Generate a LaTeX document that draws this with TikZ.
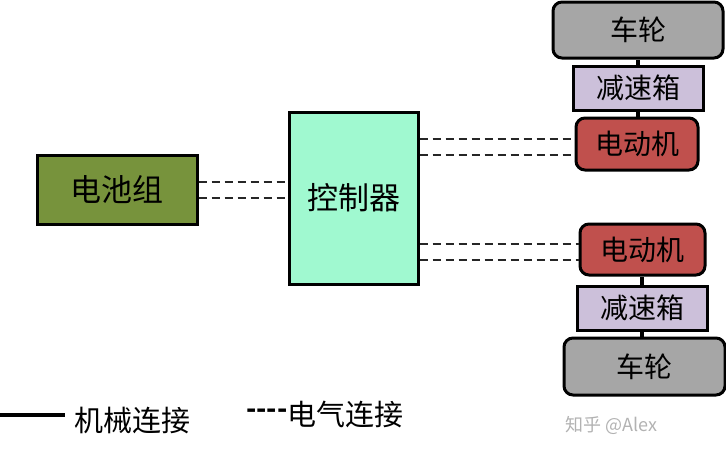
\documentclass[tikz,border=0pt]{standalone}
\usepackage{fontspec}
\setmainfont{Noto Sans CJK SC}
\newfontfamily\cjk{Noto Sans CJK SC}
\usetikzlibrary{calc}
\definecolor{batc}{HTML}{77933C}
\definecolor{ctrlc}{HTML}{A0F9D0}
\definecolor{wheelc}{HTML}{A6A6A6}
\definecolor{gearc}{HTML}{CCC0DA}
\definecolor{motorc}{HTML}{C0504D}
\begin{document}
\begin{tikzpicture}[x=1pt,y=-1pt,
  box/.style={draw=black,line width=3pt,inner sep=0pt,align=center,font=\cjk\fontsize{28}{30}\selectfont},
  rbox/.style={box,rounded corners=9pt},
  elec/.style={draw=black!85,line width=1.4pt,dash pattern=on 8pt off 5pt},
  mech/.style={draw=black,line width=3.5pt}]
\useasboundingbox (0,0) rectangle (726,455);
\node[box,fill=batc,minimum width=160pt,minimum height=69pt,font=\cjk\fontsize{31}{33}\selectfont] (bat) at (117,189.5) {电池组};
\node[box,fill=ctrlc,minimum width=129pt,minimum height=172pt,font=\cjk\fontsize{31}{33}\selectfont] (ctrl) at (353.5,198) {控制器};
\node[rbox,fill=wheelc,minimum width=170pt,minimum height=56pt] (w1) at (638,30) {车轮};
\node[box,fill=gearc,minimum width=130pt,minimum height=44pt] (g1) at (638,88) {减速箱};
\node[rbox,fill=motorc,minimum width=122pt,minimum height=52pt] (m1) at (637,144) {电动机};
\node[rbox,fill=motorc,minimum width=125pt,minimum height=51pt] (m2) at (642.5,249.5) {电动机};
\node[box,fill=gearc,minimum width=130pt,minimum height=44pt] (g2) at (642,308) {减速箱};
\node[rbox,fill=wheelc,minimum width=161pt,minimum height=57pt] (w2) at (644.5,366.5) {车轮};
% mechanical links
\draw[mech] (g1.north) -- (g1.north |- w1.south);
\draw[mech] (g1.south) -- (g1.south |- m1.north);
\draw[mech] (g2.north) -- (g2.north |- m2.south);
\draw[mech] (g2.south) -- (g2.south |- w2.north);
% electrical links
\coordinate (b1) at ([yshift=7.5pt]bat.east);
\coordinate (b2) at ([yshift=-8.5pt]bat.east);
\draw[elec] (b1) -- (b1 -| ctrl.west);
\draw[elec] (b2) -- (b2 -| ctrl.west);
\coordinate (a1) at ([yshift=5pt]m1.west);
\coordinate (a2) at ([yshift=-11pt]m1.west);
\draw[elec] (a1 -| ctrl.east) -- (a1);
\draw[elec] (a2 -| ctrl.east) -- (a2);
\coordinate (c1) at ([yshift=5.5pt]m2.west);
\coordinate (c2) at ([yshift=-10.5pt]m2.west);
\draw[elec] (c1 -| ctrl.east) -- (c1);
\draw[elec] (c2 -| ctrl.east) -- (c2);
% legend
\coordinate (l0) at (0,415);
\coordinate (l1) at (65,415);
\draw[line width=4pt] (l0) -- (l1);
\node[anchor=west,inner sep=0pt,font=\cjk\fontsize{29}{31}\selectfont] (lt1) at (74,421) {机械连接};
\node[anchor=west,inner sep=0pt,font=\cjk\bfseries\fontsize{27}{29}\selectfont] (ld) at (246,414) {----};
\node[anchor=west,inner sep=0pt,font=\cjk\fontsize{29}{31}\selectfont] (lt2) at (ld.east) {电气连接};
\node[anchor=west,inner sep=0pt,text=black!30,font=\cjk\fontsize{18}{20}\selectfont] (wm) at (565,425) {知乎 @Alex};
\end{tikzpicture}
\end{document}
